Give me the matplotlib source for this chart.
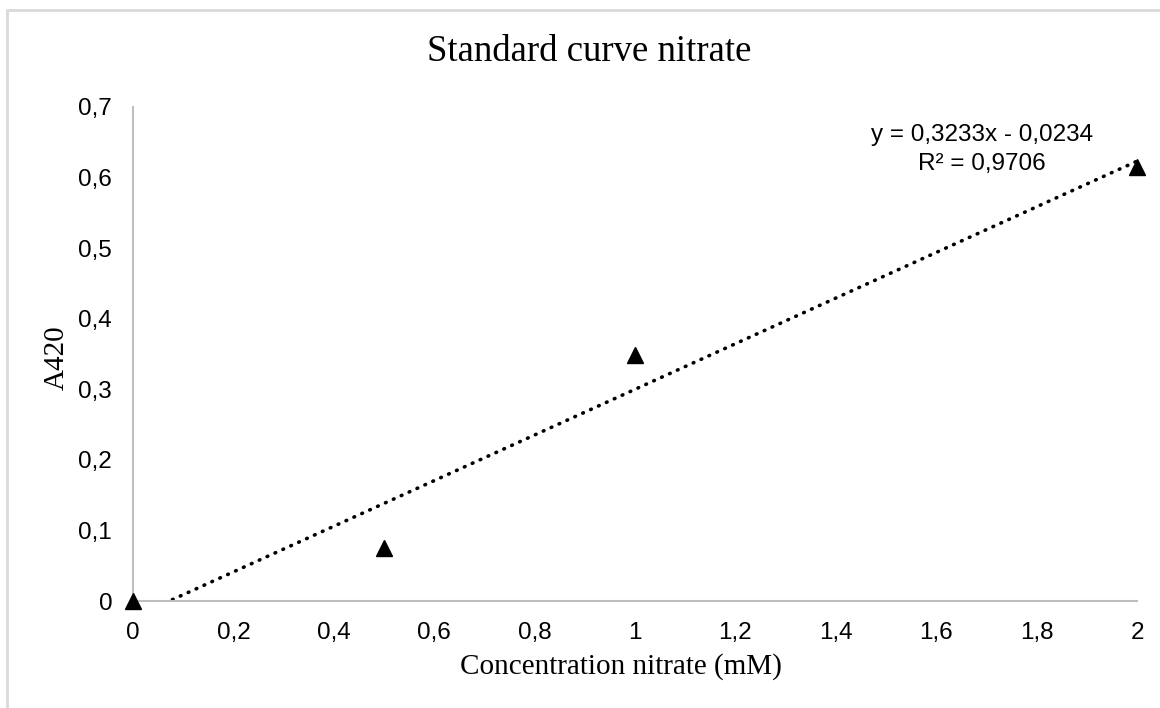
import matplotlib
matplotlib.use('Agg')
import matplotlib.pyplot as plt
from matplotlib.patches import Rectangle
from matplotlib.ticker import FuncFormatter
import numpy as np

# nitrate standards (mM) and measured absorbance at 420 nm
conc = [0, 0.5, 1, 2]
a420 = [0, 0.075, 0.348, 0.615]

x_ticks = [0, 0.2, 0.4, 0.6, 0.8, 1, 1.2, 1.4, 1.6, 1.8, 2]
y_ticks = [0, 0.1, 0.2, 0.3, 0.4, 0.5, 0.6, 0.7]

serif = ['Liberation Serif', 'DejaVu Serif']
sans = ['Liberation Sans', 'DejaVu Sans']


def comma(v, pos):
    s = ('%.1f' % v).rstrip('0').rstrip('.')
    return s.replace('.', ',')


fig = plt.figure(figsize=(11.6, 7.08), dpi=100)
ax = fig.add_axes([133/1160, 1-601/708, (1137-133)/1160, (601-107)/708])

# chart area border
fig.patches.append(Rectangle((7/1160, -0.1), 1.2, 1-10/708+0.1, transform=fig.transFigure,
                             fill=False, edgecolor='#d9d9d9', linewidth=2, zorder=0))

# linear trendline
slope, intercept = np.polyfit(conc, a420, 1)
pred = np.polyval([slope, intercept], conc)
r2 = 1 - np.sum((np.array(a420)-pred)**2)/np.sum((np.array(a420)-np.mean(a420))**2)
xs = np.array([0, 2])
ax.plot(xs, slope*xs + intercept, color='black', linewidth=2.6,
        linestyle=(0, (0.2, 2.2)), dash_capstyle='round', zorder=2)

ax.plot(conc, a420, linestyle='none', marker='^', markersize=11,
        color='black', zorder=3, clip_on=False)

ax.set_xlim(0, 2)
ax.set_ylim(0, 0.7)
ax.set_xticks(x_ticks)
ax.set_yticks(y_ticks)
ax.xaxis.set_major_formatter(FuncFormatter(comma))
ax.yaxis.set_major_formatter(FuncFormatter(comma))
ax.tick_params(length=0, labelsize=17.5, pad=15)
for lbl in ax.get_xticklabels() + ax.get_yticklabels():
    lbl.set_family(sans)
ax.tick_params(axis='y', pad=15)

for side in ['top', 'right']:
    ax.spines[side].set_visible(False)
for side in ['left', 'bottom']:
    ax.spines[side].set_color('#bfbfbf')
    ax.spines[side].set_linewidth(1.5)

fig.text(0.508, 1-52/708, 'Standard curve nitrate', family=serif, fontsize=26.5,
         ha='center', va='center')
fig.text(621/1160, 1-667/708, 'Concentration nitrate (mM)', family=serif, fontsize=21,
         ha='center', va='center')
fig.text(57/1160, 1-358/708, 'A420', family=serif, fontsize=21, rotation=90,
         ha='center', va='center')

eq = ('y = %.4fx - %.4f' % (slope, abs(intercept))).replace('.', ',')
r2_txt = ('R² = %.4f' % r2).replace('.', ',')
fig.text(982/1160, 1-135/708, eq, family=sans, fontsize=17.5, ha='center', va='center')
fig.text(982/1160, 1-164/708, r2_txt, family=sans, fontsize=17.5, ha='center', va='center')

fig.savefig('out.png', dpi=100, facecolor='white')
